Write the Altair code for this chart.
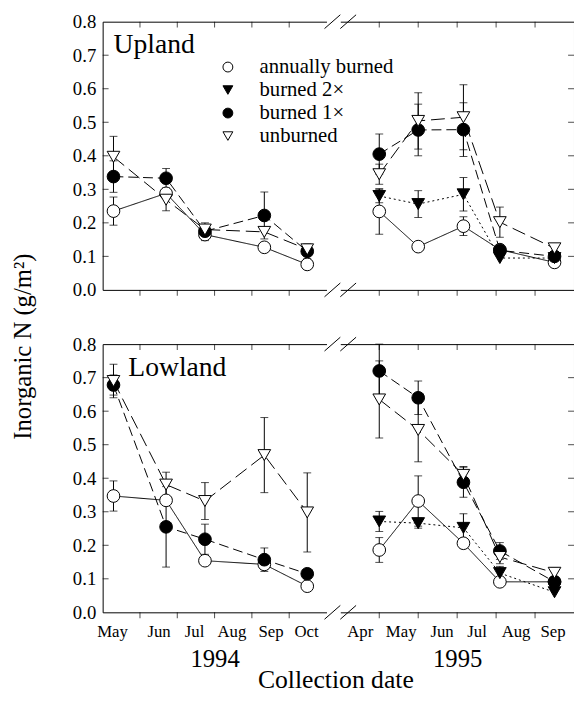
import altair as alt
import pandas as pd

FONT = "Liberation Serif"

SERIES = ["annually burned", "burned 2×", "burned 1×", "unburned"]
SHAPES = ["circle", "triangle-down", "circle", "triangle-down"]
FILLS = ["white", "black", "black", "white"]
DASHES = [[1, 0], [2, 3], [10, 5], [14, 6]]

dates_1994 = ["1994-05-10", "1994-06-22", "1994-07-24", "1994-09-11", "1994-10-16"]
dates_1995 = ["1995-05-01", "1995-06-01", "1995-07-06", "1995-08-04", "1995-09-16"]

# Upland 1994
up94_annual = [0.235, 0.288, 0.165, 0.127, 0.076]
up94_annual_se = [0.042, 0.0, 0.018, 0.012, 0.0]
up94_b1 = [0.338, 0.333, 0.175, 0.222, 0.115]
up94_b1_se = [0.047, 0.029, 0.012, 0.07, 0.022]
up94_unb = [0.397, 0.269, 0.18, 0.173, 0.121]
up94_unb_se = [0.061, 0.033, 0.02, 0.0, 0.015]
# Upland 1995
up95_annual = [0.234, 0.129, 0.19, 0.12, 0.082]
up95_annual_se = [0.068, 0.0, 0.028, 0.0, 0.0]
up95_b2 = [0.28, 0.256, 0.285, 0.095, 0.095]
up95_b2_se = [0.02, 0.04, 0.05, 0.0, 0.0]
up95_b1 = [0.405, 0.477, 0.478, 0.118, 0.1]
up95_b1_se = [0.06, 0.077, 0.08, 0.0, 0.0]
up95_unb = [0.345, 0.504, 0.515, 0.202, 0.124]
up95_unb_se = [0.03, 0.084, 0.097, 0.045, 0.01]
# Lowland 1994
lo94_annual = [0.347, 0.334, 0.154, 0.143, 0.078]
lo94_annual_se = [0.045, 0.0, 0.0, 0.015, 0.0]
lo94_b1 = [0.678, 0.255, 0.218, 0.157, 0.115]
lo94_b1_se = [0.03, 0.12, 0.045, 0.035, 0.0]
lo94_unb = [0.69, 0.381, 0.332, 0.469, 0.298]
lo94_unb_se = [0.05, 0.037, 0.055, 0.112, 0.118]
# Lowland 1995
lo95_annual = [0.186, 0.332, 0.206, 0.091, 0.091]
lo95_annual_se = [0.037, 0.075, 0.01, 0.0, 0.0]
lo95_b2 = [0.271, 0.266, 0.252, 0.117, 0.06]
lo95_b2_se = [0.03, 0.015, 0.042, 0.02, 0.0]
lo95_b1 = [0.72, 0.64, 0.388, 0.183, 0.091]
lo95_b1_se = [0.08, 0.05, 0.045, 0.025, 0.0]
lo95_unb = [0.635, 0.544, 0.41, 0.165, 0.118]
lo95_unb_se = [0.115, 0.095, 0.025, 0.02, 0.015]

y_labels = [0.0, 0.1, 0.2, 0.3, 0.4, 0.5, 0.6, 0.7, 0.8]
y_ticks = [0.1, 0.2, 0.3, 0.4, 0.5, 0.6, 0.7]
month_ticks = {1994: [6, 7, 8, 9, 10], 1995: [5, 6, 7, 8, 9]}
month_label_pos = {1994: [5.25, 6.5, 7.45, 8.45, 9.5, 10.45],
                   1995: [4.5, 5.55, 6.6, 7.5, 8.5, 9.45]}

panels = [
    ("Upland", 1994, dates_1994, [("annually burned", up94_annual, up94_annual_se),
                                  ("burned 1×", up94_b1, up94_b1_se),
                                  ("unburned", up94_unb, up94_unb_se)]),
    ("Upland", 1995, dates_1995, [("annually burned", up95_annual, up95_annual_se),
                                  ("burned 2×", up95_b2, up95_b2_se),
                                  ("burned 1×", up95_b1, up95_b1_se),
                                  ("unburned", up95_unb, up95_unb_se)]),
    ("Lowland", 1994, dates_1994, [("annually burned", lo94_annual, lo94_annual_se),
                                   ("burned 1×", lo94_b1, lo94_b1_se),
                                   ("unburned", lo94_unb, lo94_unb_se)]),
    ("Lowland", 1995, dates_1995, [("annually burned", lo95_annual, lo95_annual_se),
                                   ("burned 2×", lo95_b2, lo95_b2_se),
                                   ("burned 1×", lo95_b1, lo95_b1_se),
                                   ("unburned", lo95_unb, lo95_unb_se)]),
]


def frac_month(s):
    t = pd.Timestamp(s)
    return t.month + (t.day - 1) / t.days_in_month


rows = []
for site, year, dates, series in panels:
    for name, vals, ses in series:
        for dt, v, se in zip(dates, vals, ses):
            rows.append({"site": site, "year": year, "series": name, "xm": frac_month(dt),
                         "value": v, "se": se, "lo": v - se, "hi": v + se})
df = pd.DataFrame(rows)
legend_df = pd.DataFrame({"series": SERIES})

W = {1994: 227, 1995: 237}
H = 272
X0 = {1994: 5, 1995: 4}
GAP = 14

yscale = alt.Scale(domain=[0, 0.8], nice=False, zero=False)
shape_scale = alt.Scale(domain=SERIES, range=SHAPES)
fill_scale = alt.Scale(domain=SERIES, range=FILLS)
dash_scale = alt.Scale(domain=SERIES, range=DASHES)

MONTH_EXPR = "['Jan','Feb','Mar','Apr','May','Jun','Jul','Aug','Sep','Oct','Nov','Dec'][floor(datum.value) - 1]"


def panel(site, year):
    d = df[(df.site == site) & (df.year == year)]
    e = d[d.se > 0]
    w = W[year]
    x0 = X0[year]
    xscale = alt.Scale(domain=[x0, x0 + 6], nice=False, zero=False)
    bottom = site == "Lowland"
    left = year == 1994
    if bottom:
        xaxis = alt.Axis(orient="bottom", values=month_label_pos[year],
                         labelExpr=MONTH_EXPR, ticks=False, tickSize=0, domain=True,
                         domainColor="black", labels=True, labelFont=FONT, labelFontSize=17,
                         labelPadding=12, labelFlush=False, labelOverlap=False,
                         labelColor="black", title=str(year), titleFont=FONT,
                         titleFontSize=25, titleFontWeight="normal", titlePadding=7,
                         titleColor="black", grid=False)
    else:
        xaxis = alt.Axis(orient="bottom", labels=False, ticks=False, tickSize=0,
                         domain=True, domainColor="black", title=None, grid=False)
    if left:
        if site == "Upland":
            kw = dict(title="Inorganic N (g/m²)", titleFont=FONT, titleFontSize=25,
                      titleFontWeight="normal", titleColor="black", titleX=-81,
                      titleY=329, titleAngle=270, titleBaseline="middle", titleAlign="center")
        else:
            kw = dict(title=None)
        yaxis = alt.Axis(orient="left", values=y_labels, format=".1f", ticks=False,
                         tickSize=0, domain=True, domainColor="black", labels=True,
                         labelFont=FONT, labelFontSize=19,
                         labelColor="black", labelPadding=7, grid=False, **kw)
    else:
        yaxis = alt.Axis(orient="right", labels=False, ticks=False, tickSize=0,
                         domain=True, domainColor="black", title=None, grid=False)

    X = lambda f, ax=None: alt.X(f, scale=xscale, axis=ax)
    Y = lambda f, ax=None: alt.Y(f, scale=yscale, axis=ax)

    lines = alt.Chart(d).mark_line(color="black", strokeWidth=1).encode(
        x=X("xm:Q", xaxis), y=Y("value:Q", yaxis),
        strokeDash=alt.StrokeDash("series:N", scale=dash_scale, legend=None),
        detail="series:N",
    )
    rules = alt.Chart(e).mark_rule(color="black", strokeWidth=1).encode(
        x=X("xm:Q"), y=Y("lo:Q"), y2="hi:Q")
    cap_lo = alt.Chart(e).mark_tick(orient="horizontal", size=8, thickness=1, color="black").encode(
        x=X("xm:Q"), y=Y("lo:Q"))
    cap_hi = alt.Chart(e).mark_tick(orient="horizontal", size=8, thickness=1, color="black").encode(
        x=X("xm:Q"), y=Y("hi:Q"))
    pts = alt.Chart(d).mark_point(filled=True, size=165, stroke="black", strokeWidth=1,
                                  opacity=1).encode(
        x=X("xm:Q"), y=Y("value:Q"),
        shape=alt.Shape("series:N", scale=shape_scale, legend=None),
        fill=alt.Fill("series:N", scale=fill_scale, legend=None),
    )
    tdf = pd.DataFrame({"t": month_ticks[year]})
    top_ticks = alt.Chart(tdf).mark_tick(orient="vertical", size=6, thickness=1, color="black").encode(
        x=X("t:Q", alt.Axis(orient="top", labels=False, ticks=False, tickSize=0, domain=True,
                            domainColor="black", title=None, grid=False)),
        y=alt.value(3))
    bot_ticks = alt.Chart(tdf).mark_tick(orient="vertical", size=6, thickness=1, color="black").encode(
        x=X("t:Q"), y=alt.value(H + 3))
    ydf = pd.DataFrame({"v": y_ticks})
    y_tk = alt.Chart(ydf).mark_tick(orient="horizontal", size=6, thickness=1, color="black").encode(
        y=Y("v:Q"), x=alt.value(3 if left else w - 3))

    layers = [lines, rules, cap_lo, cap_hi, pts, top_ticks, bot_ticks, y_tk]

    if left:
        lab = alt.Chart(pd.DataFrame({"label": [site]})).mark_text(
            align="left", baseline="middle", font=FONT, fontSize=28, color="black").encode(
            text="label:N", x=alt.value(11 if site == "Upland" else 26), y=alt.value(24))
        layers.append(lab)
        if site == "Upland":
            leg_y = alt.Y("series:N", scale=alt.Scale(domain=SERIES, range=[46, 116], padding=0),
                          axis=None)
            leg_sym = alt.Chart(legend_df).mark_point(
                filled=True, size=100, stroke="black", strokeWidth=1, opacity=1).encode(
                x=alt.value(127), y=leg_y,
                shape=alt.Shape("series:N", scale=shape_scale, legend=None),
                fill=alt.Fill("series:N", scale=fill_scale, legend=None))
            leg_txt = alt.Chart(legend_df).mark_text(
                align="left", baseline="middle", font=FONT, fontSize=21, color="black").encode(
                x=alt.value(159), y=leg_y, text="series:N")
            layers += [leg_sym, leg_txt]
        # axis-break marks straddling the gap to the 1995 panel
        bdf = pd.DataFrame({"k": [0]})
        for yy in (0, H):
            layers.append(alt.Chart(bdf).mark_rule(color="black", strokeWidth=1).encode(
                x=alt.value(w - 2), x2=alt.value(w + GAP), y=alt.value(yy + 7),
                y2=alt.value(yy - 7)))
            layers.append(alt.Chart(bdf).mark_rule(color="black", strokeWidth=1).encode(
                x=alt.value(w + GAP), x2=alt.value(w + GAP + 16), y=alt.value(yy + 7),
                y2=alt.value(yy - 7)))

    return alt.layer(*layers).resolve_axis(x="independent", y="independent").resolve_scale(
        y="independent").properties(width=w, height=H)


chart = alt.concat(
    panel("Upland", 1994), panel("Upland", 1995),
    panel("Lowland", 1994), panel("Lowland", 1995),
    columns=2, spacing={"row": 55, "column": GAP}, bounds="flush",
).resolve_scale(x="independent").properties(
    title=alt.TitleParams("Collection date", orient="bottom", anchor="middle", font=FONT,
                          fontSize=26, fontWeight="normal", color="black", dx=44, offset=0,
                          dy=-4),
    padding={"left": 3, "top": 0, "right": 0, "bottom": 0},
).configure_view(stroke=None, strokeWidth=0).configure_axis(
    grid=False, domain=False, ticks=False, labels=False
)

chart.save("out.html", embed_options={"renderer": "svg", "actions": False})
